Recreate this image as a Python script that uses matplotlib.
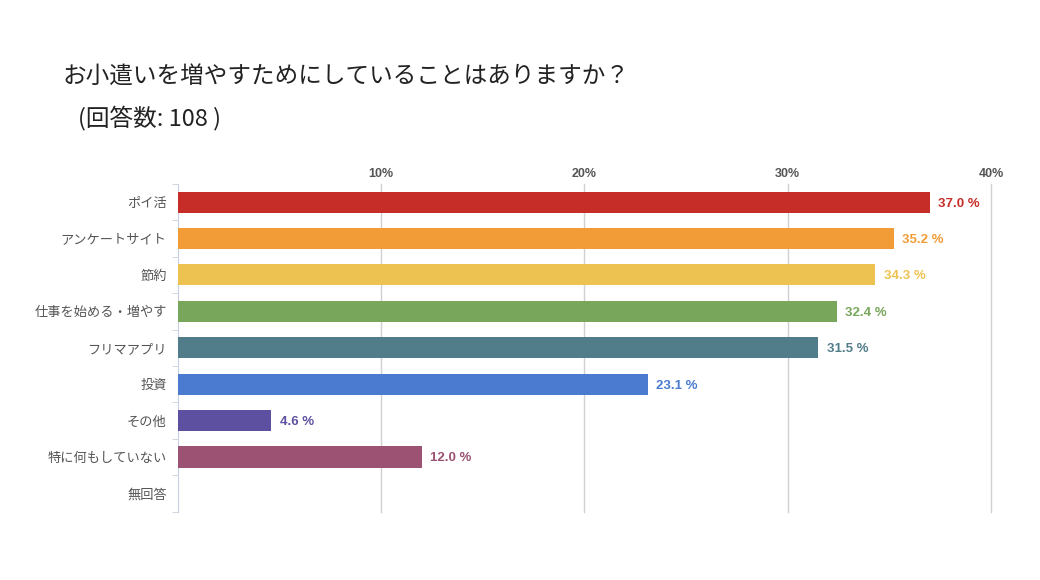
import matplotlib.pyplot as plt
import numpy as np

plt.rcParams['font.family'] = ['Noto Sans CJK JP', 'DejaVu Sans']

categories = ['ポイ活', 'アンケートサイト', '節約', '仕事を始める・増やす', 'フリマアプリ',
              '投資', 'その他', '特に何もしていない', '無回答']
values = [37.0, 35.2, 34.3, 32.4, 31.5, 23.1, 4.6, 12.0, 0.0]
colors = ['#C62D28', '#F29C38', '#EDC250', '#78A65A', '#517D8A',
          '#4A7BD0', '#5E50A1', '#9C5273', '#999999']
xticks = [10, 20, 30, 40]

fig = plt.figure(figsize=(10.4, 5.8), dpi=100)
ax = fig.add_axes([0.171, 0.118, 0.782, 0.565])

y = np.arange(len(categories))
ax.barh(y, values, height=0.58, color=colors, zorder=3)

for yi, v, c in zip(y, values, colors):
    if v > 0:
        ax.annotate(f'{v:.1f} %', (v, yi), xytext=(6, 0), textcoords='offset points',
                    va='center_baseline', ha='left', fontsize=9.5, fontweight='bold', color=c,
                    family=['Liberation Sans', 'DejaVu Sans'])

ax.set_xlim(0, 40)
ax.set_ylim(len(categories) - 0.5, -0.5)
ax.set_xticks(xticks)
ax.set_xticklabels([f'{t}%' for t in xticks], fontsize=9, fontweight='bold', color='#555555',
                   family=['Liberation Sans', 'DejaVu Sans'])
ax.xaxis.tick_top()
ax.tick_params(axis='x', length=0, pad=3)
ax.grid(axis='x', color='#d0d0d0', linewidth=1, zorder=0)
for gl in ax.get_xgridlines():
    gl.set_clip_on(False)

ax.set_yticks(y)
ax.set_yticklabels(categories, fontsize=9.5, color='#555555')
ax.set_yticks(np.arange(-0.5, len(categories), 1), minor=True)
ax.tick_params(axis='y', which='major', length=0, pad=8)
ax.tick_params(axis='y', which='minor', length=4, color='#c8d0e0')

for s in ['top', 'right', 'bottom']:
    ax.spines[s].set_visible(False)
ax.spines['left'].set_color('#c8d0e0')

fig.text(0.06, 0.855, 'お小遣いを増やすためにしていることはありますか？', fontsize=17, color='#222222')
fig.text(0.075, 0.783, '(回答数: 108 )', fontsize=17, color='#222222')

fig.savefig('out.png', dpi=100)
